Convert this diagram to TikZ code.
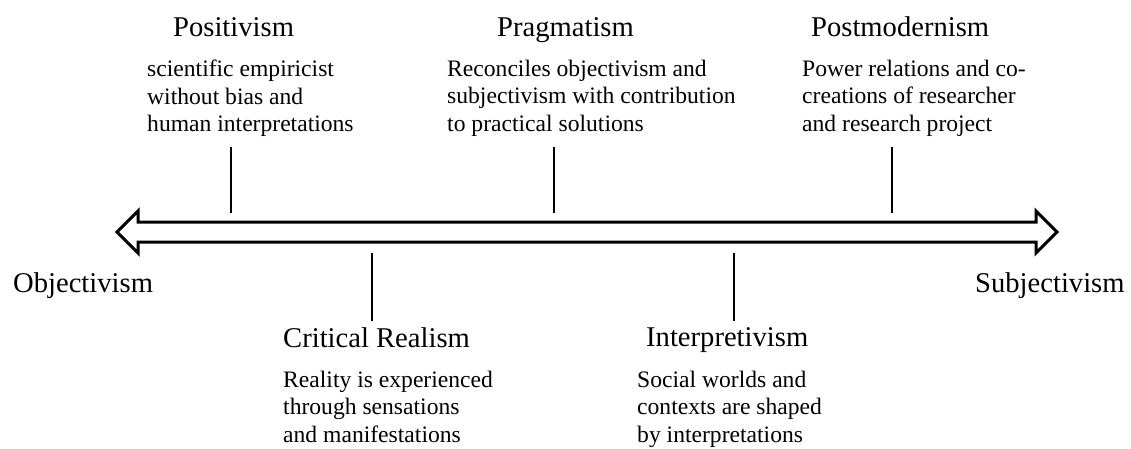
\documentclass[tikz,border=0pt]{standalone}
\usepackage{fontspec}
\setmainfont{Liberation Serif}
\usetikzlibrary{positioning}

\tikzset{
  title/.style={anchor=base west, inner sep=0pt, font=\fontsize{28.6}{34}\selectfont},
  body/.style={anchor=north west, inner sep=0pt, align=left, font=\fontsize{23.6}{27.3}\selectfont},
  tick/.style={line width=1.3pt},
  scale arrow/.style={line width=3pt, line join=miter}
}

\begin{document}
\begin{tikzpicture}[x=1pt,y=-1pt]
\useasboundingbox (0,0) rectangle (1131,449);

% the scale
\draw[scale arrow] (117,232) -- (138,211) -- (138,222) -- (1036,222) -- (1036,211)
  -- (1057,232) -- (1036,253) -- (1036,242) -- (138,242) -- (138,253) -- cycle;

\node[title] (obj) at (13,292) {Objectivism};
\node[title] (subj) at (975,292) {Subjectivism};

% above the scale
\node[title] (posit) at (173,37) {Positivism};
\node[body] (positbody) at (147,60) {scientific empiricist\\without bias and\\human interpretations};
\node[title] (pragm) at (497,37) {Pragmatism};
\node[body] (pragmbody) at (447,60) {Reconciles objectivism and\\subjectivism with contribution\\to practical solutions};
\node[title] (postm) at (811,37) {Postmodernism};
\node[body] (postmbody) at (802,60) {Power relations and co-\\creations of researcher\\and research project};

% below the scale
\node[title] (crit) at (283,347) {Critical Realism};
\node[body] (critbody) at (283,371) {Reality is experienced\\through sensations\\and manifestations};
\node[title] (interp) at (646,346) {Interpretivism};
\node[body] (interpbody) at (637,371) {Social worlds and\\contexts are shaped\\by interpretations};

% ticks
\foreach [count=\i] \x in {231,554,892} {
  \coordinate (up\i a) at (\x,147);
  \coordinate (up\i b) at (\x,213);
  \draw[tick] (up\i a) -- (up\i b);
}
\foreach [count=\i] \x in {372,734} {
  \coordinate (dn\i a) at (\x,253);
  \coordinate (dn\i b) at (\x,321);
  \draw[tick] (dn\i a) -- (dn\i b);
}
\end{tikzpicture}
\end{document}
